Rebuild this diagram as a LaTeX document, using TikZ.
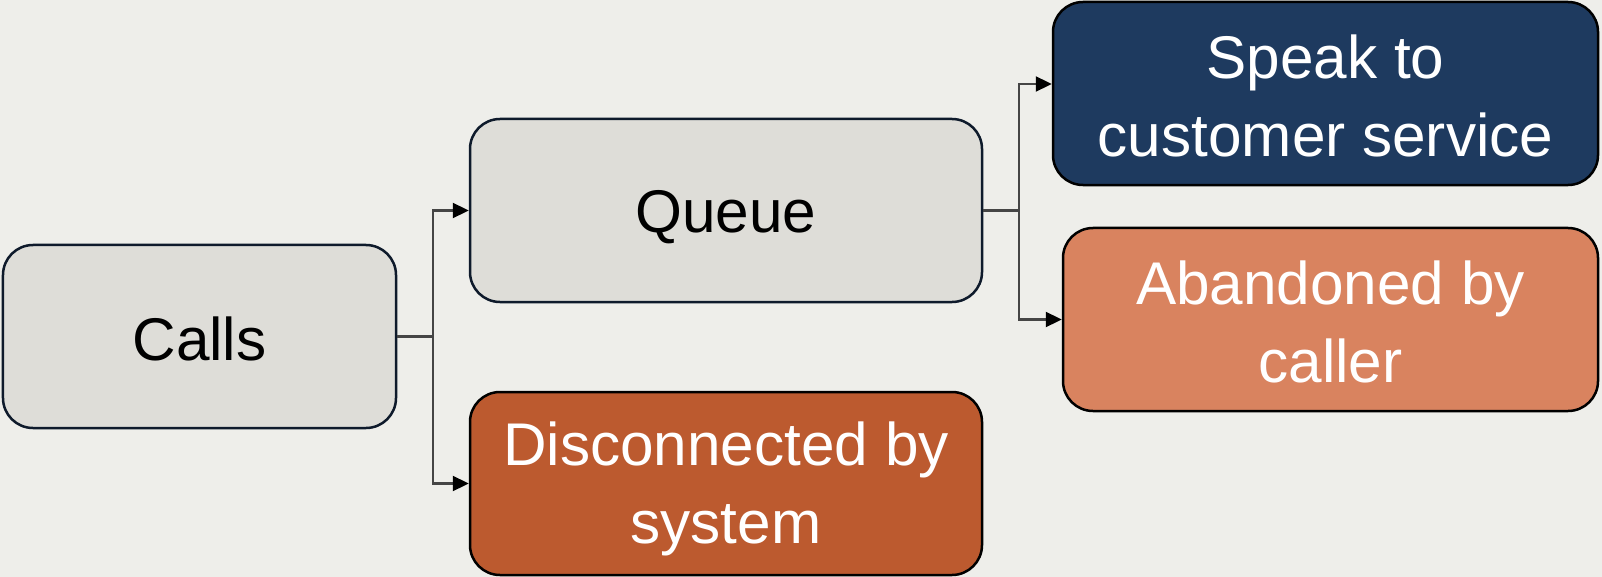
\documentclass[tikz,border=0pt]{standalone}
\usepackage{fontspec}
\setmainfont{Liberation Sans}
\usetikzlibrary{arrows.meta,calc}
\definecolor{bg}{HTML}{EEEEEA}
\definecolor{greybox}{HTML}{DEDDD8}
\definecolor{navy}{HTML}{1E3A5F}
\definecolor{salmon}{HTML}{D9835F}
\definecolor{rust}{HTML}{BC5A2F}
\definecolor{edge}{HTML}{0E1A2B}
\definecolor{linkgray}{HTML}{454545}
% uniform line strut so every label sits at the same height in its box
\newcommand\lnstrut{\rule[-7bp]{0pt}{62bp}}
\begin{document}
\begin{tikzpicture}[x=1bp,y=-1bp,
  box/.style={draw=edge, line width=2.5bp, rounded corners=30bp,
    font=\fontsize{60.5}{78}\selectfont, align=center, inner sep=0pt,
    minimum height=183bp},
  link/.style={draw=linkgray, line width=2.3bp,
    -{Triangle[length=16bp,width=15bp,color=black]}}]
\fill[bg] (0,0) rectangle (1602,577);
\useasboundingbox (0,0) rectangle (1602,577);

\node[box, fill=greybox, text=black, minimum width=393bp] (calls) at (199.5,336.5) {\lnstrut Calls};
\node[box, fill=greybox, text=black, minimum width=512bp] (queue) at (726,210.5) {\lnstrut Queue};
\node[box, fill=rust, text=white, draw=black, minimum width=512bp] (disc) at (726,483.5) {\lnstrut Disconnected by\\\lnstrut system};
\node[box, fill=navy, text=white, draw=black, minimum width=545bp] (speak) at (1325.5,93.5) {\lnstrut Speak to\\\lnstrut customer service};
\node[box, fill=salmon, text=white, draw=black, minimum width=535bp] (aband) at (1330.5,319.5) {\lnstrut Abandoned by\\\lnstrut caller};

\draw[link] (calls.east) -- ++(36,0) |- (queue.west);
\draw[link] (calls.east) -- ++(36,0) |- (disc.west);
\draw[link] (queue.east) -- ++(36,0) |- ($(speak.west)+(0,-9.5)$);
\draw[link] (queue.east) -- ++(36,0) |- (aband.west);
\end{tikzpicture}
\end{document}
